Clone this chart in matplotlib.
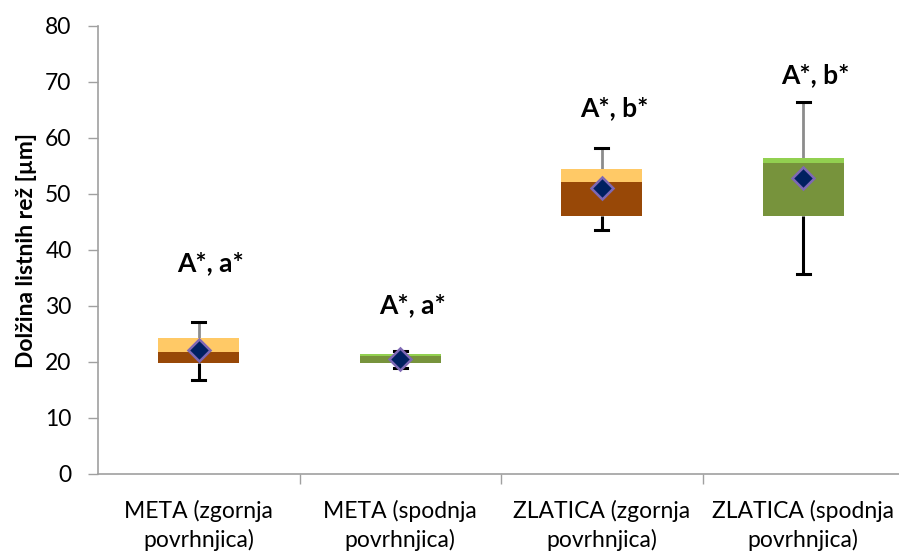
import matplotlib
matplotlib.use("Agg")
import matplotlib.pyplot as plt
import numpy as np

# Category labels and five-number summaries with means (µm)
categories = ["META (zgornja\npovrhnjica)", "META (spodnja\npovrhnjica)",
              "ZLATICA (zgornja\npovrhnjica)", "ZLATICA (spodnja\npovrhnjica)"]
minimum = [16.7, 18.9, 43.6, 35.8]
q1 = [19.9, 19.9, 46.0, 46.0]
median = [21.8, 21.0, 52.2, 55.6]
q3 = [24.3, 21.5, 54.5, 56.4]
maximum = [27.2, 21.9, 58.3, 66.5]
mean = [22.1, 20.6, 51.0, 52.9]
letters = ["A*, a*", "A*, a*", "A*, b*", "A*, b*"]
letter_y = [37.7, 30.2, 65.4, 71.3]

dark_colors = ["#984807", "#77933C", "#984807", "#77933C"]
light_colors = ["#FFC966", "#92D050", "#FFC966", "#92D050"]

plt.rcParams["font.family"] = ["Lato", "DejaVu Sans"]

fig = plt.figure(figsize=(8.99, 5.52), dpi=100)
ax = fig.add_axes([98 / 899, 78 / 552, 806 / 899, 448 / 552])

x = np.arange(1, len(categories) + 1)
q1a, meda, q3a = np.array(q1), np.array(median), np.array(q3)
mina, maxa = np.array(minimum), np.array(maximum)

# whiskers: lower in black, upper in grey, both with black caps
half_cap = 0.0325
for xi, lo, b, t, hi in zip(x, mina, q1a, q3a, maxa):
    ax.plot([xi, xi], [lo, b], color="black", lw=2.2, zorder=1, solid_capstyle="butt")
    ax.plot([xi, xi], [t, hi], color="#8c8c8c", lw=2.0, zorder=1, solid_capstyle="butt")
    ax.plot([xi - half_cap, xi + half_cap], [lo, lo], color="black", lw=2.2, zorder=1)
    ax.plot([xi - half_cap, xi + half_cap], [hi, hi], color="black", lw=2.2, zorder=1)

# box: lower part Q1–median, upper part median–Q3
ax.bar(x, meda - q1a, bottom=q1a, width=0.4, color=dark_colors, zorder=2)
ax.bar(x, q3a - meda, bottom=meda, width=0.4, color=light_colors, zorder=2)

# means
ax.plot(x, mean, linestyle="none", marker="D", markersize=11.5,
        markerfacecolor="#002060", markeredgecolor="#7E68B4",
        markeredgewidth=1.8, zorder=3)

# significance letters
for xi, yi, t in zip(x, letter_y, letters):
    ax.text(xi + 0.06, yi, t, ha="center", va="center",
            fontsize=19, fontweight="bold", color="black")

ax.set_xlim(0.5, 4.5)
ax.set_ylim(0, 80)
ax.set_yticks(np.arange(0, 81, 10))
ax.set_xticks([1.5, 2.5, 3.5], minor=False)
ax.set_xticklabels([])
ax.set_xticks(x, minor=True)
ax.set_xticklabels(categories, minor=True, fontsize=16.5, linespacing=1.35)
ax.tick_params(axis="x", which="minor", length=0, pad=19)
ax.tick_params(axis="x", which="major", length=7, width=1, color="#a0a0a0", direction="out")
ax.tick_params(axis="y", length=7, width=1, color="#a0a0a0", direction="out",
               labelsize=16.5, pad=12)

for side in ("top", "right"):
    ax.spines[side].set_visible(False)
for side in ("left", "bottom"):
    ax.spines[side].set_color("#a0a0a0")
    ax.spines[side].set_linewidth(1.2)

ax.set_ylabel("Dolžina listnih rež [µm]", fontsize=16.5, fontweight="bold", labelpad=6)

fig.savefig("out.png", dpi=100)
